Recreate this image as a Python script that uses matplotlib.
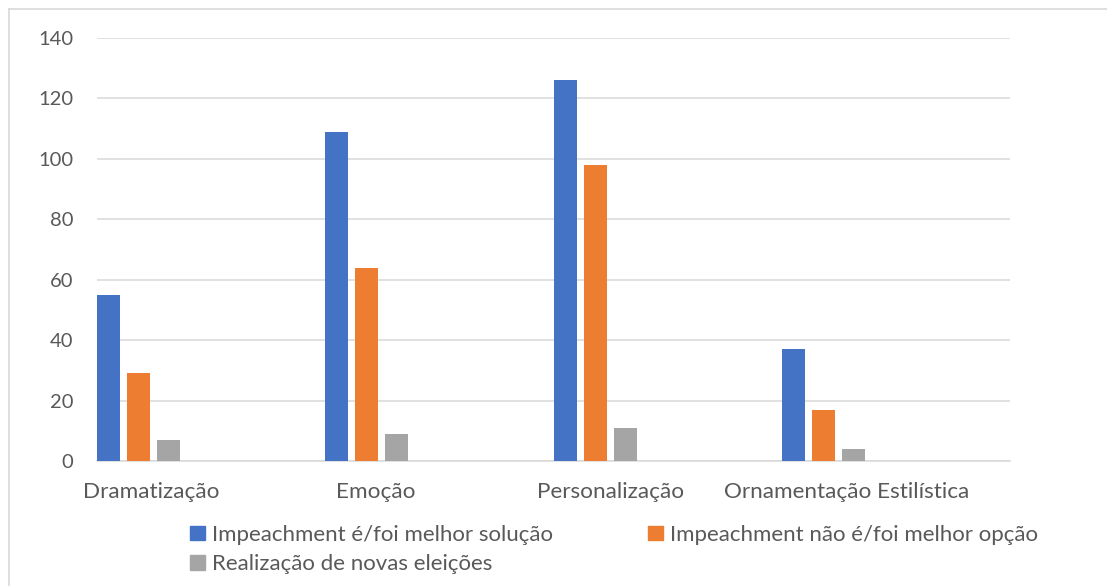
import matplotlib
matplotlib.use("Agg")
import matplotlib.pyplot as plt
from matplotlib.patches import Patch
import numpy as np

categories = ["Dramatização", "Emoção", "Personalização", "Ornamentação Estilística"]
series_names = [
    "Impeachment é/foi melhor solução",
    "Impeachment não é/foi melhor opção",
    "Realização de novas eleições",
]
impeachment_sim = [55, 109, 126, 37]
impeachment_nao = [29, 64, 98, 17]
novas_eleicoes = [7, 9, 11, 4]
yticks = [0, 20, 40, 60, 80, 100, 120, 140]

colors = ["#4472C4", "#ED7D31", "#A5A5A5"]
text_color = "#595959"
grid_color = "#D9D9D9"

plt.rcParams["font.family"] = ["Lato", "DejaVu Sans"]

W, H = 1107, 586
fig = plt.figure(figsize=(W / 100, H / 100), dpi=100)

# chart area frame (left and top edges visible)
fig.add_artist(plt.Line2D([9 / W, 9 / W], [0, 1 - 9 / H], transform=fig.transFigure,
                          color=grid_color, lw=1.2))
fig.add_artist(plt.Line2D([9 / W, 1], [1 - 9 / H, 1 - 9 / H], transform=fig.transFigure,
                          color=grid_color, lw=1.2))

left, right = 97 / W, 1010 / W
bottom, top = 1 - 461 / H, 1 - 38 / H
ax = fig.add_axes([left, bottom, right - left, top - bottom])

x = np.arange(len(categories))
bar_w = 23 / 228
pitch = 30 / 228
values = [impeachment_sim, impeachment_nao, novas_eleicoes]
for k, (vals, col) in enumerate(zip(values, colors)):
    ax.bar(x + k * pitch, vals, width=bar_w, align="edge", color=col, zorder=3)

ax.set_xlim(0, len(categories))
ax.set_ylim(0, 140)
ax.set_yticks(yticks)
ax.set_yticklabels([str(t) for t in yticks])

label_offsets = [0.237, 1.22, 2.25, 3.285]
ax.set_xticks(label_offsets)
ax.set_xticklabels(categories)

ax.grid(axis="y", color=grid_color, lw=1.1, zorder=0)
for s in ["top", "right", "left"]:
    ax.spines[s].set_visible(False)
ax.spines["bottom"].set_color(grid_color)
ax.spines["bottom"].set_linewidth(1.1)
ax.tick_params(axis="both", length=0, colors=text_color)
ax.tick_params(axis="y", pad=17, labelsize=14.5)
ax.tick_params(axis="x", pad=15, labelsize=16.2)

handles = [Patch(color=c) for c in colors]
order = [0, 2, 1]
fig.legend([handles[i] for i in order], [series_names[i] for i in order],
           loc="upper left", bbox_to_anchor=(190 / W, 1 - 525 / H),
           ncol=2, frameon=False, fontsize=16.0, labelcolor=text_color,
           handlelength=0.68, handleheight=0.6, handletextpad=0.3,
           columnspacing=4.3, labelspacing=0.42, borderpad=0, borderaxespad=0)

fig.savefig("out.png", dpi=100)
